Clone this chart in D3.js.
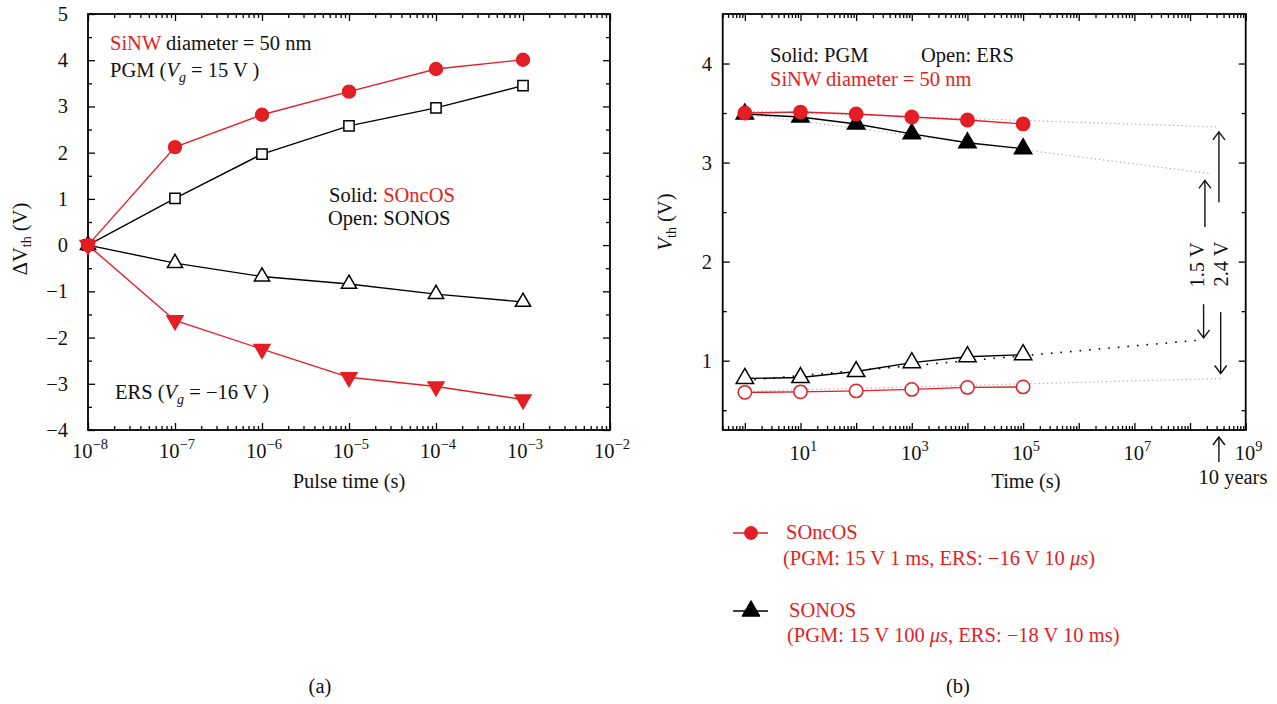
<!DOCTYPE html>
<html><head><meta charset="utf-8">
<script src="https://cdn.jsdelivr.net/npm/d3@7"></script>
<style>
body{margin:0;background:#fff}
svg{display:block}
text{font-family:"Liberation Serif","Times New Roman",serif;font-size:20.5px;fill:#111}
</style>
</head><body>
<svg id="c" width="1277" height="704"></svg>
<script>
const RED = "#e31e24";

// ---------- Panel (a): pulse time dependence ----------
const pulseTimes = [1e-8, 1e-7, 1e-6, 1e-5, 1e-4, 1e-3];
const soncosPgm  = [0, 2.12, 2.82, 3.32, 3.81, 4.01];
const sonosPgm   = [0, 1.01, 1.97, 2.58, 2.97, 3.45];
const sonosErs   = [0, -0.39, -0.68, -0.84, -1.06, -1.23];
const soncosErs  = [0, -1.63, -2.25, -2.86, -3.06, -3.34];
const aXTickExp  = [-8, -7, -6, -5, -4, -3, -2];
const aYTicks    = [-4, -3, -2, -1, 0, 1, 2, 3, 4, 5];

// ---------- Panel (b): retention ----------
const retTimes     = [1, 10, 100, 1e3, 1e4, 1e5];
const soncosPgmRet = [3.50, 3.51, 3.49, 3.46, 3.43, 3.39];
const sonosPgmRet  = [3.49, 3.46, 3.39, 3.29, 3.20, 3.14];
const sonosErsRet  = [0.82, 0.83, 0.89, 0.98, 1.04, 1.06];
const soncosErsRet = [0.68, 0.685, 0.695, 0.71, 0.73, 0.735];
// extrapolation fits: order soncosPgm, sonosPgm, sonosErs, soncosErs
const fitStartVal = [3.52, 3.49, 0.80, 0.69];
const fitEndTime  = [3.1e8, 2.2e8, 1.65e8, 3.8e8];
const fitEndVal   = [3.36, 2.89, 1.21, 0.82];
const bXTickExp   = [1, 3, 5, 7, 9];
const bYTicks     = [1, 2, 3, 4];
// window arrows (time, from, to)
const windowArrows = [
  {t: 3.3e8, from: 2.60, to: 3.31},
  {t: 1.85e8, from: 2.35, to: 2.82},
  {t: 1.75e8, from: 1.57, to: 1.23},
  {t: 3.55e8, from: 1.49, to: 0.87}
];
const tenYears = 3.3e8;

const svg = d3.select("#c");

function supLabel(g, x, y, exp, anchor) {
  const t = g.append("text").attr("x", x).attr("y", y).attr("text-anchor", anchor || "middle");
  t.append("tspan").text("10");
  t.append("tspan").attr("dy", -9).attr("font-size", 14.5).text(exp < 0 ? "\u2212" + (-exp) : String(exp));
  return t;
}
function styleAxis(g) {
  g.select(".domain").remove();
  g.selectAll("line").attr("stroke", "#000").attr("stroke-width", 1.3);
  g.selectAll("text").remove();
}
function frameAxes(x, y, xMaj, xMin, yMaj, yMin) {
  const [x0, x1] = x.range(), [y0, y1] = y.range();
  const add = (axisFn, scale, vals, size, tr) => {
    svg.append("g").attr("transform", tr)
      .call(axisFn(scale).tickValues(vals).tickSize(size).tickFormat(""))
      .call(styleAxis);
  };
  add(d3.axisBottom, x, xMaj, -7, `translate(0,${y0})`);
  add(d3.axisBottom, x, xMin, -4, `translate(0,${y0})`);
  add(d3.axisTop, x, xMaj, -7, `translate(0,${y1})`);
  add(d3.axisTop, x, xMin, -4, `translate(0,${y1})`);
  add(d3.axisLeft, y, yMaj, -7, `translate(${x0},0)`);
  add(d3.axisLeft, y, yMin, -4, `translate(${x0},0)`);
  add(d3.axisRight, y, yMaj, -7, `translate(${x1},0)`);
  add(d3.axisRight, y, yMin, -4, `translate(${x1},0)`);
  svg.append("rect").attr("x", x0).attr("y", y1).attr("width", x1 - x0).attr("height", y0 - y1)
    .attr("fill", "none").attr("stroke", "#000").attr("stroke-width", 1.8);
}
function logMinors(scale) {
  return scale.ticks().filter(v => Math.abs(Math.log10(v) - Math.round(Math.log10(v))) > 1e-6);
}
function series(x, y, xs, ys, color, type, fill, size) {
  const pts = xs.map((t, i) => [x(t), y(ys[i])]);
  svg.append("path").attr("d", d3.line()(pts)).attr("fill", "none")
    .attr("stroke", color).attr("stroke-width", 1.4);
  const sym = d3.symbol().type(type === "square" ? d3.symbolSquare :
    type === "circle" ? d3.symbolCircle : d3.symbolTriangle).size(size);
  svg.append("g").selectAll("path").data(pts).join("path")
    .attr("d", sym)
    .attr("transform", d => `translate(${d[0]},${d[1]})` + (type === "down" ? " rotate(180)" : ""))
    .attr("fill", fill).attr("stroke", color).attr("stroke-width", 1.5);
}
function arrow(x, yFrom, yTo) {
  svg.append("line").attr("x1", x).attr("x2", x).attr("y1", yFrom).attr("y2", yTo)
    .attr("stroke", "#111").attr("stroke-width", 1.4);
  const dir = yTo < yFrom ? 1 : -1;
  svg.append("path").attr("d", `M${x - 6},${yTo + dir * 8} L${x},${yTo} L${x + 6},${yTo + dir * 8}`)
    .attr("fill", "none").attr("stroke", "#111").attr("stroke-width", 1.4);
}

// ===== Panel (a) =====
const xa = d3.scaleLog().domain([1e-8, 1e-2]).range([88, 610]);
const ya = d3.scaleLinear().domain([-4, 5]).range([430, 14]);
const aMaj = aXTickExp.map(e => Math.pow(10, e));
const aYMin = d3.range(-3.5, 5, 1);
frameAxes(xa, ya, aMaj, logMinors(xa), aYTicks, aYMin);

aXTickExp.forEach(e => supLabel(svg, xa(Math.pow(10, e)) + 2, 458, e));
aYTicks.forEach(v => svg.append("text").attr("x", 68).attr("y", ya(v) + 7)
  .attr("text-anchor", "end").text(v < 0 ? "\u2212" + (-v) : v));

series(xa, ya, pulseTimes, sonosPgm, "#000", "square", "#fff", 105);
series(xa, ya, pulseTimes, sonosErs, "#000", "up", "#fff", 100);
series(xa, ya, pulseTimes, soncosPgm, RED, "circle", RED, 130);
series(xa, ya, pulseTimes, soncosErs, RED, "down", RED, 110);

svg.append("text").attr("x", 349).attr("y", 488).attr("text-anchor", "middle").text("Pulse time (s)");
{
  const t = svg.append("text").attr("transform", "translate(27,239) rotate(-90)").attr("text-anchor", "middle");
  t.append("tspan").text("\u0394V");
  t.append("tspan").attr("font-size", 14).attr("dy", 4).text("th");
  t.append("tspan").attr("dy", -4).text(" (V)");
}
{
  const t = svg.append("text").attr("x", 110).attr("y", 50);
  t.append("tspan").attr("fill", RED).style("fill", RED).text("SiNW");
  t.append("tspan").text(" diameter = 50 nm");
  const p = svg.append("text").attr("x", 110).attr("y", 77);
  p.append("tspan").text("PGM (");
  p.append("tspan").attr("font-style", "italic").text("V");
  p.append("tspan").attr("font-style", "italic").attr("font-size", 14).attr("dy", 5).text("g");
  p.append("tspan").attr("dy", -5).text(" = 15 V )");
  const e = svg.append("text").attr("x", 115).attr("y", 399);
  e.append("tspan").text("ERS (");
  e.append("tspan").attr("font-style", "italic").text("V");
  e.append("tspan").attr("font-style", "italic").attr("font-size", 14).attr("dy", 5).text("g");
  e.append("tspan").attr("dy", -5).text(" = \u221216 V )");
  const s = svg.append("text").attr("x", 329).attr("y", 202);
  s.append("tspan").text("Solid: ");
  s.append("tspan").attr("fill", RED).style("fill", RED).text("SOncOS");
  svg.append("text").attr("x", 328).attr("y", 225).text("Open: SONOS");
}
svg.append("text").attr("x", 320).attr("y", 693).attr("text-anchor", "middle").text("(a)");

// ===== Panel (b) =====
const xb = d3.scaleLog().domain([0.4, 1e9]).range([722.7, 1245.7]);
const yb = d3.scaleLinear().domain([0.3, 4.5]).range([430, 14]);
const bMaj = d3.range(0, 10).map(e => Math.pow(10, e));
const bYMin = [0.5, 1.5, 2.5, 3.5];
frameAxes(xb, yb, bMaj, logMinors(xb), bYTicks, bYMin);

bXTickExp.forEach(e => supLabel(svg, xb(Math.pow(10, e)) + 3, 460, e));
bYTicks.forEach(v => svg.append("text").attr("x", 712).attr("y", yb(v) + 7)
  .attr("text-anchor", "end").text(v));

// extrapolation dotted lines
const fitSeries = [soncosPgmRet, sonosPgmRet, sonosErsRet, soncosErsRet];
fitSeries.forEach((s, i) => {
  const black = i === 2;
  svg.append("line")
    .attr("x1", xb(retTimes[0])).attr("y1", yb(fitStartVal[i]))
    .attr("x2", xb(fitEndTime[i])).attr("y2", yb(fitEndVal[i]))
    .attr("stroke", black ? "#000" : "#aaa").attr("stroke-width", black ? 1.6 : 1.2)
    .attr("stroke-dasharray", black ? "1.6,8" : "1.2,3");
});

series(xb, yb, retTimes, sonosErsRet, "#000", "up", "#fff", 130);
series(xb, yb, retTimes, soncosErsRet, RED, "circle", "#fff", 140);
series(xb, yb, retTimes, sonosPgmRet, "#000", "up", "#000", 130);
series(xb, yb, retTimes, soncosPgmRet, RED, "circle", RED, 140);

windowArrows.forEach(a => arrow(xb(a.t), yb(a.from), yb(a.to)));
svg.append("text").attr("transform", "translate(1204,265) rotate(-90)").attr("text-anchor", "middle").text("1.5 V");
svg.append("text").attr("transform", "translate(1228,264) rotate(-90)").attr("text-anchor", "middle").text("2.4 V");
arrow(xb(tenYears), 462, 437);
svg.append("text").attr("x", 1233).attr("y", 484).attr("text-anchor", "middle").text("10 years");

svg.append("text").attr("x", 1026).attr("y", 488).attr("text-anchor", "middle").text("Time (s)");
{
  const t = svg.append("text").attr("transform", "translate(672,222) rotate(-90)").attr("text-anchor", "middle");
  t.append("tspan").attr("font-style", "italic").text("V");
  t.append("tspan").attr("font-size", 14).attr("dy", 4).text("th");
  t.append("tspan").attr("dy", -4).text(" (V)");
}
svg.append("text").attr("x", 770).attr("y", 62).text("Solid: PGM");
svg.append("text").attr("x", 921).attr("y", 62).text("Open: ERS");
svg.append("text").attr("x", 770).attr("y", 86).style("fill", RED).text("SiNW diameter = 50 nm");

// legend
const legend = [
  {name: "SOncOS", cond: "(PGM: 15 V 1 ms, ERS: \u221216 V 10 ", unit: "\u03bc", tail: "s)", color: RED, type: "circle", y: 533, nx: 786, cx: 783, ny: 539, cy: 565},
  {name: "SONOS", cond: "(PGM: 15 V 100 ", unit: "\u03bc", tail: "s, ERS: \u221218 V 10 ms)", color: "#000", type: "up", y: 611, nx: 789, cx: 787, ny: 617, cy: 642}
];
legend.forEach(l => {
  svg.append("line").attr("x1", 733).attr("x2", 768).attr("y1", l.y).attr("y2", l.y)
    .attr("stroke", l.color).attr("stroke-width", 1.4);
  svg.append("path").attr("d", d3.symbol().type(l.type === "circle" ? d3.symbolCircle : d3.symbolTriangle).size(l.type === "circle" ? 130 : 140))
    .attr("transform", `translate(751,${l.y})`).attr("fill", l.color).attr("stroke", l.color);
  svg.append("text").attr("x", l.nx).attr("y", l.ny).style("fill", RED).text(l.name);
  const c = svg.append("text").attr("x", l.cx).attr("y", l.cy).style("fill", RED);
  c.append("tspan").text(l.cond);
  c.append("tspan").attr("font-style", "italic").text(l.unit);
  c.append("tspan").attr("font-style", "italic").text(l.tail.charAt(0));
  c.append("tspan").text(l.tail.slice(1));
});
svg.append("text").attr("x", 958).attr("y", 693).attr("text-anchor", "middle").text("(b)");
</script>
</body></html>
